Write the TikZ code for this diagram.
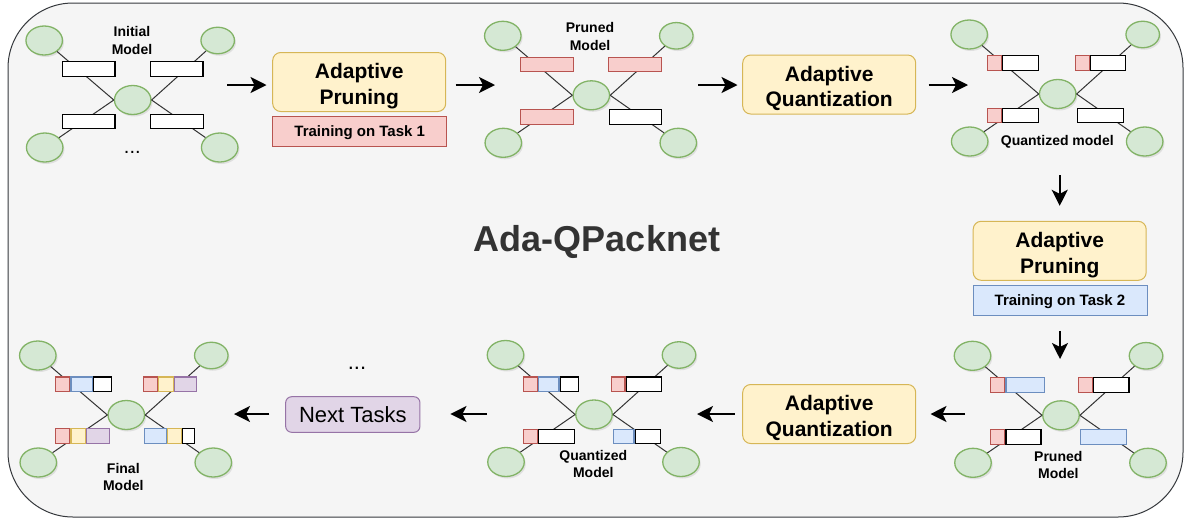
\documentclass[tikz,border=0pt]{standalone}
\usepackage{fontspec}
\setmainfont{Liberation Sans}
\usetikzlibrary{shapes.geometric,arrows.meta,shadows}
\definecolor{frameFill}{HTML}{F5F5F5}
\definecolor{frameDraw}{HTML}{36393D}
\definecolor{nfill}{HTML}{D5E8D4}
\definecolor{ndraw}{HTML}{82B366}
\definecolor{rfill}{HTML}{F8CECC}
\definecolor{rdraw}{HTML}{B85450}
\definecolor{bfill}{HTML}{DAE8FC}
\definecolor{bdraw}{HTML}{6C8EBF}
\definecolor{yfill}{HTML}{FFF2CC}
\definecolor{ydraw}{HTML}{D6B656}
\definecolor{pfill}{HTML}{E1D5E7}
\definecolor{pdraw}{HTML}{9673A6}
\definecolor{titlegray}{HTML}{333333}
\tikzset{
  neuron/.style={ellipse, draw=ndraw, fill=nfill, line width=1.3pt, minimum width=36.5pt, minimum height=29pt, inner sep=0pt,
    drop shadow={shadow xshift=1.5pt, shadow yshift=-2pt, opacity=0.18}},
  smallneuron/.style={neuron, minimum width=33.5pt, minimum height=26.5pt},
  link/.style={draw=black!80, line width=1pt},
  segbox/.style={rectangle, inner sep=0pt, minimum height=14.5pt, line width=1.1pt, anchor=west},
  wseg/.style={draw=black, fill=white},
  rseg/.style={draw=rdraw, fill=rfill},
  bseg/.style={draw=bdraw, fill=bfill},
  yseg/.style={draw=ydraw, fill=yfill},
  pseg/.style={draw=pdraw, fill=pfill},
  stepbox/.style={rectangle, rounded corners=8pt, draw=ydraw, fill=yfill, line width=1pt, minimum width=173pt, minimum height=59pt,
    align=center, inner sep=0pt, text height=49pt, text depth=4.4pt, font=\fontsize{21}{25.5}\selectfont\bfseries},
  taskbox/.style={rectangle, line width=1pt, minimum width=174pt, minimum height=30pt, inner sep=0pt,
    text height=11pt, text depth=1pt, font=\fontsize{15}{18}\selectfont\bfseries},
  mlabel/.style={align=center, inner sep=0pt, font=\fontsize{14}{17.5}\selectfont\bfseries},
  arr/.style={line width=2pt, -{Stealth[length=16pt,width=16pt,inset=4pt]}},
}
\newcommand\mnet[3]{%
  \node[neuron] (#1c) at (#2,#3) {};
  \node[neuron] (#1tl) at (#2-88.5,#3-59.5) {};
  \node[smallneuron] (#1tr) at (#2+85,#3-59.5) {};
  \node[neuron] (#1bl) at (#2-88,#3+47.5) {};
  \node[neuron] (#1br) at (#2+87,#3+47.5) {};
  \draw[link] (#1tl) -- (#1c.west);
  \draw[link] (#1bl) -- (#1c.west);
  \draw[link] (#1tr) -- (#1c.east);
  \draw[link] (#1br) -- (#1c.east);
}
\newcommand\mseg[5]{\node[segbox,#2,minimum width=#5pt] (#1) at (#3,#4) {};}
\newcommand\mnext[4]{\node[segbox,#2,minimum width=#4pt] (#1) at (#3.east) {};}
\begin{document}
\begin{tikzpicture}[x=1pt,y=-1pt]
\useasboundingbox (0,0) rectangle (1188,523);
% frame
\node[rectangle, draw=frameDraw, fill=frameFill, line width=1pt, rounded corners=65pt,
      minimum width=1175pt, minimum height=514pt, inner sep=0pt] (frame) at (595.5,260) {};
\node[font=\fontsize{36}{40}\selectfont\bfseries, text=titlegray] (title) at (597,242) {Ada-QPacknet};

% ---------- model 1: initial
\mnet{ma}{132.7}{100}
\mseg{ma1}{wseg}{61.7}{69}{52.7}
\mseg{ma2}{wseg}{149.7}{69}{52.7}
\mseg{ma3}{wseg}{61.7}{121.5}{52.7}
\mseg{ma4}{wseg}{150}{121.5}{52.7}
\node[mlabel] (malab) at (132,40.5) {Initial\\Model};
\node[font=\fontsize{20}{20}\selectfont] (madots) at (132.3,152) {...};

% ---------- model 2: pruned
\mnet{mb}{591.3}{95.3}
\mseg{mb1}{rseg}{520.3}{64.3}{52.7}
\mseg{mb2}{rseg}{608.3}{64.3}{52.7}
\mseg{mb3}{rseg}{520.3}{116.8}{52.7}
\mseg{mb4}{wseg}{608.6}{116.8}{52.7}
\node[mlabel] (mblab) at (590,36.5) {Pruned\\Model};

% ---------- model 3: quantized
\mnet{mc}{1057.7}{94}
\mseg{mc1a}{rseg}{986.7}{63}{14}
\mnext{mc1b}{wseg}{mc1a}{36}
\mseg{mc2a}{rseg}{1074.5}{63}{14}
\mnext{mc2b}{wseg}{mc2a}{35}
\mseg{mc3a}{rseg}{986.7}{115.5}{14}
\mnext{mc3b}{wseg}{mc3a}{36}
\mseg{mc4}{wseg}{1076.7}{115.5}{46}
\node[mlabel] (mclab) at (1057.3,142) {Quantized model};

% ---------- model 4: pruned (task 2)
\mnet{md}{1061}{415.3}
\mseg{md1a}{rseg}{990}{385}{14.3}
\mnext{md1b}{bseg}{md1a}{38.4}
\mseg{md2a}{rseg}{1077.7}{385}{14}
\mnext{md2b}{wseg}{md2a}{35.6}
\mseg{md3a}{rseg}{990}{436.8}{14.3}
\mnext{md3b}{wseg}{md3a}{35}
\mseg{md4}{bseg}{1080}{436.8}{46}
\node[mlabel] (mdlab) at (1058.3,465) {Pruned\\Model};

% ---------- model 5: quantized (task 2)
\mnet{me}{594}{414.5}
\mseg{me1a}{rseg}{523.3}{384.2}{13.3}
\mnext{me1b}{bseg}{me1a}{20.7}
\mnext{me1c}{wseg}{me1b}{18.4}
\mseg{me2a}{rseg}{610.7}{384.2}{13.7}
\mnext{me2b}{wseg}{me2a}{35.6}
\mseg{me3a}{rseg}{523.3}{436.4}{13.3}
\mnext{me3b}{wseg}{me3a}{36}
\mseg{me4a}{bseg}{612.7}{436.4}{20.7}
\mnext{me4b}{wseg}{me4a}{25.6}
\node[mlabel] (melab) at (593.3,464) {Quantized\\Model};

% ---------- model 6: final
\mnet{mf}{126.3}{415}
\mseg{mf1a}{rseg}{55}{384.2}{14.3}
\mnext{mf1b}{bseg}{mf1a}{21.3}
\mnext{mf1c}{wseg}{mf1b}{17.7}
\mseg{mf2a}{rseg}{142.7}{384.2}{14}
\mnext{mf2b}{yseg}{mf2a}{15}
\mnext{mf2c}{pseg}{mf2b}{21.6}
\mseg{mf3a}{rseg}{55}{436}{14.3}
\mnext{mf3b}{yseg}{mf3a}{14.7}
\mnext{mf3c}{pseg}{mf3b}{22.7}
\mseg{mf4a}{bseg}{144.3}{436}{21.3}
\mnext{mf4b}{yseg}{mf4a}{14.3}
\mnext{mf4c}{wseg}{mf4b}{11.7}
\node[mlabel] (mflab) at (123.3,477) {Final\\Model};

% ---------- process boxes
\node[stepbox] (ap1) at (359.2,82) {Adaptive\\Pruning};
\node[taskbox, draw=rdraw, fill=rfill] (t1) at (359.7,131.7) {Training on Task 1};
\node[stepbox] (aq1) at (829.2,84.5) {Adaptive\\Quantization};
\node[stepbox] (ap2) at (1059.7,250.8) {Adaptive\\Pruning};
\node[taskbox, draw=bdraw, fill=bfill] (t2) at (1060,300.3) {Training on Task 2};
\node[stepbox] (aq2) at (829.2,414) {Adaptive\\Quantization};
\node[rectangle, rounded corners=6pt, draw=pdraw, fill=pfill, line width=1pt, minimum width=134.3pt, minimum height=35.6pt,
      inner sep=0pt, font=\fontsize{22}{26}\selectfont] (next) at (352.8,414.5) {Next Tasks};
\node[font=\fontsize{22}{22}\selectfont] (nextdots) at (357,368) {...};

% ---------- arrow end points at the models
\coordinate (mae) at (227,85);
\coordinate (mbw) at (495,85);
\coordinate (mbe) at (698,85);
\coordinate (mcw) at (968,85);
\coordinate (mcs) at (1059.7,175);
\coordinate (mdn) at (1060,359);
\coordinate (mdw) at (965,414);
\coordinate (mee) at (697,414);
\coordinate (mew) at (487,414);
\coordinate (mfe) at (234,414);

% ---------- arrows
\draw[arr, shorten >=5.7pt] (mae) -- (mae -| ap1.west);
\draw[arr, shorten <=9.3pt] (mbw -| ap1.east) -- (mbw);
\draw[arr, shorten >=4.7pt] (mbe) -- (mbe -| aq1.west);
\draw[arr, shorten <=12.3pt] (mcw -| aq1.east) -- (mcw);
\draw[arr, shorten >=15pt] (mcs) -- (ap2.north);
\draw[arr, shorten <=15pt] (t2.south) -- (mdn);
\draw[arr, shorten >=14.3pt] (mdw) -- (mdw -| aq2.east);
\draw[arr, shorten <=7.7pt] (mee -| aq2.west) -- (mee);
\draw[arr, shorten >=30pt] (mew) -- (mew -| next.east);
\draw[arr, shorten <=15.7pt] (mfe -| next.west) -- (mfe);
\end{tikzpicture}
\end{document}
